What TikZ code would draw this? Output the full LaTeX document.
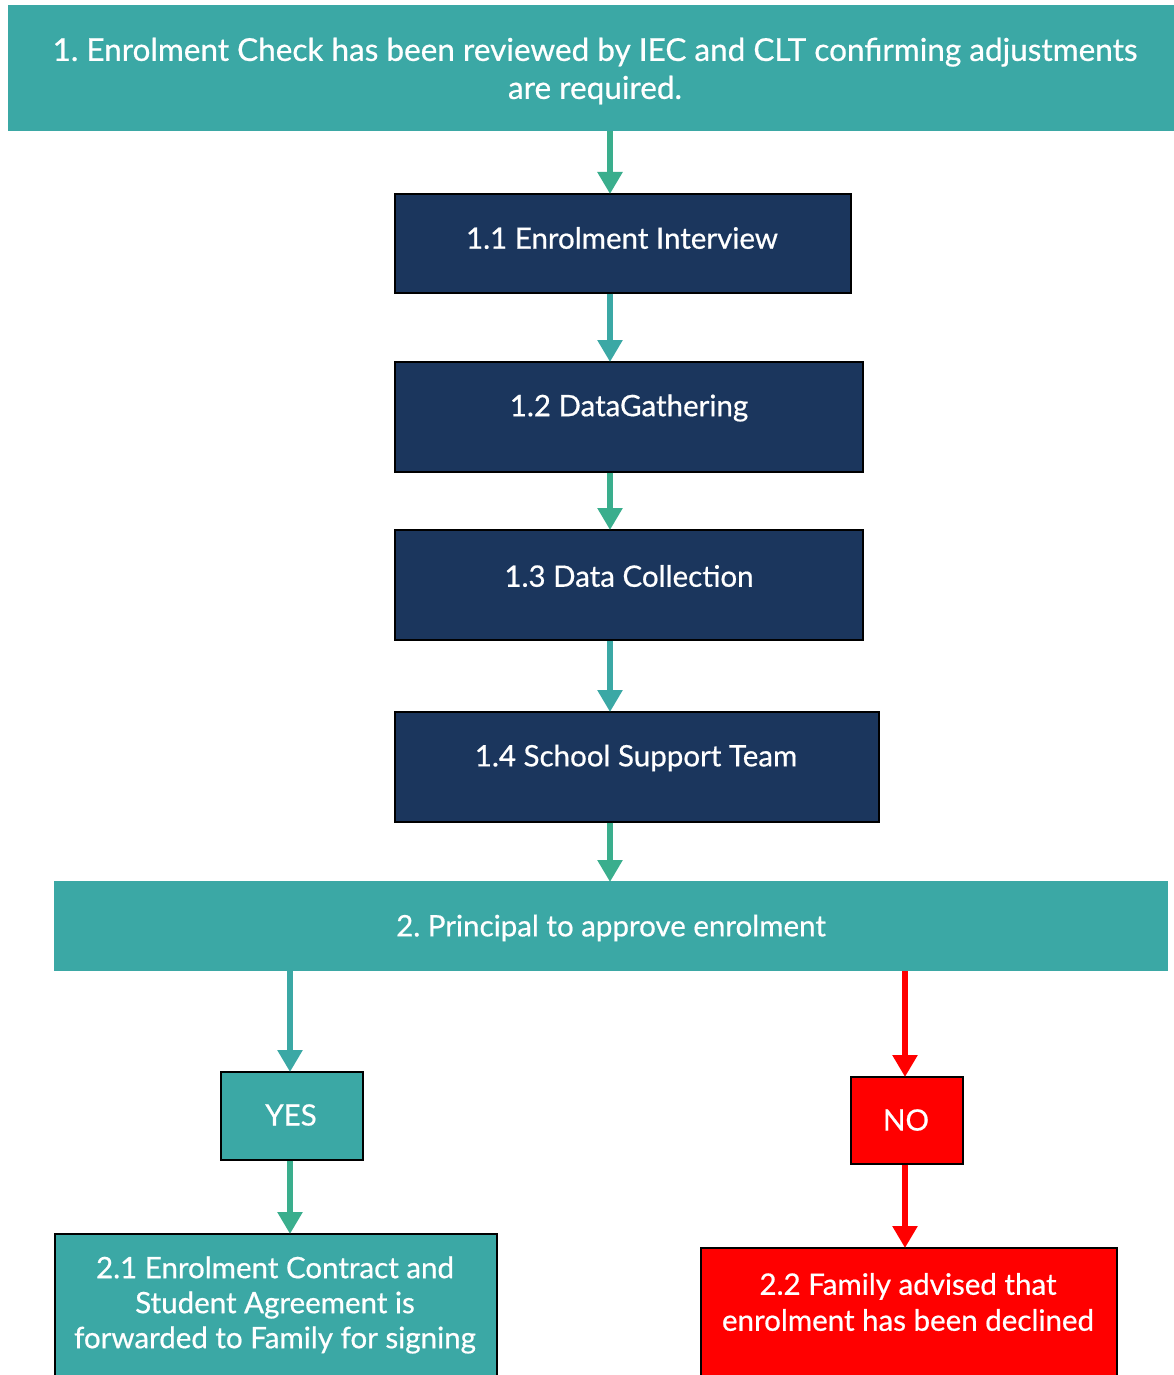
\documentclass[tikz,border=0pt]{standalone}
\usepackage{fontspec}
\setmainfont{Lato}[FakeBold=0.6]
\frenchspacing
\usetikzlibrary{arrows.meta}
\definecolor{tealbox}{HTML}{3BA8A5}
\definecolor{greenarr}{HTML}{3AAE8D}
\definecolor{navy}{HTML}{1B365D}
\definecolor{redbox}{HTML}{FF0000}
\tikzset{
  box/.style={draw=black, line width=1.6pt, rectangle, inner sep=0pt, anchor=north west},
  band/.style={rectangle, inner sep=0pt, anchor=north west, fill=tealbox},
  lbl/.style={text=white, align=center, inner sep=0pt},
  arr/.style={line width=6pt, -{Triangle[width=24pt,length=22pt]}, shorten >=-1pt},
  bigfont/.style={font=\fontsize{31.5}{38}\selectfont},
  midfont/.style={font=\fontsize{29.5}{35}\selectfont},
}
\begin{document}
\begin{tikzpicture}[x=1pt,y=-1pt]
\clip (0,0) rectangle (1174,1375);
\fill[white] (0,0) rectangle (1174,1375);
% top band
\node[band, minimum width=1166pt, minimum height=126pt] (top) at (8,5) {};
\node[lbl, bigfont] (toptext) at (595,71) {1. Enrolment Check has been reviewed by IEC and CLT confirming adjustments\\are required.};
% 1.1
\node[box, fill=navy, minimum width=456pt, minimum height=99pt] (b11) at (394,193) {};
\node[lbl, midfont] (t11) at (622,238) {1.1 Enrolment Interview};
% 1.2
\node[box, fill=navy, minimum width=468pt, minimum height=110pt] (b12) at (394,361) {};
\node[lbl, midfont] (t12) at (629,408) {1.2 DataGathering};
% 1.3
\node[box, fill=navy, minimum width=468pt, minimum height=110pt] (b13) at (394,529) {};
\node[lbl, midfont] (t13) at (629,576) {1.3 Data Collection};
% 1.4
\node[box, fill=navy, minimum width=484pt, minimum height=110pt] (b14) at (394,711) {};
\node[lbl, midfont] (t14) at (636,758) {1.4 School Support Team};
% 2
\node[band, minimum width=1114pt, minimum height=90pt] (b2) at (54,881) {};
\node[lbl, midfont] (t2) at (611,928) {2. Principal to approve enrolment};
% YES
\node[box, fill=tealbox, minimum width=142pt, minimum height=88pt] (yes) at (220,1071) {};
\node[lbl, midfont] (tyes) at (291,1115) {YES};
% NO
\node[box, fill=redbox, minimum width=112pt, minimum height=87pt] (no) at (850,1076) {};
\node[lbl, midfont] (tno) at (906,1120) {NO};
% 2.1
\node[box, fill=tealbox, minimum width=442pt, minimum height=200pt] (b21) at (54,1233) {};
\node[lbl, midfont] (t21) at (275,1305) {2.1 Enrolment Contract and\\Student Agreement is\\forwarded to Family for signing};
% 2.2
\node[box, fill=redbox, minimum width=416pt, minimum height=200pt] (b22) at (700,1247) {};
\node[lbl, font=\fontsize{29.5}{36}\selectfont] (t22) at (908,1302) {2.2 Family advised that\\enrolment has been declined};
% arrows
\coordinate (a0s) at (610,131);
\coordinate (a0e) at (610,193);
\draw[arr, greenarr] (a0s) -- (a0e);
\draw[arr, tealbox] (b11.south -| a0s) -- (b12.north -| a0s);
\draw[arr, greenarr] (b12.south -| a0s) -- (b13.north -| a0s);
\draw[arr, tealbox] (b13.south -| a0s) -- (b14.north -| a0s);
\draw[arr, greenarr] (b14.south -| a0s) -- (b2.north -| a0s);
\coordinate (yx) at (290,0);
\draw[arr, tealbox] (b2.south -| yx) -- (yes.north -| yx);
\draw[arr, greenarr] (yes.south -| yx) -- (b21.north -| yx);
\coordinate (nx) at (905,0);
\draw[arr, redbox] (b2.south -| nx) -- (no.north -| nx);
\draw[arr, redbox] (no.south -| nx) -- (b22.north -| nx);
\end{tikzpicture}
\end{document}
